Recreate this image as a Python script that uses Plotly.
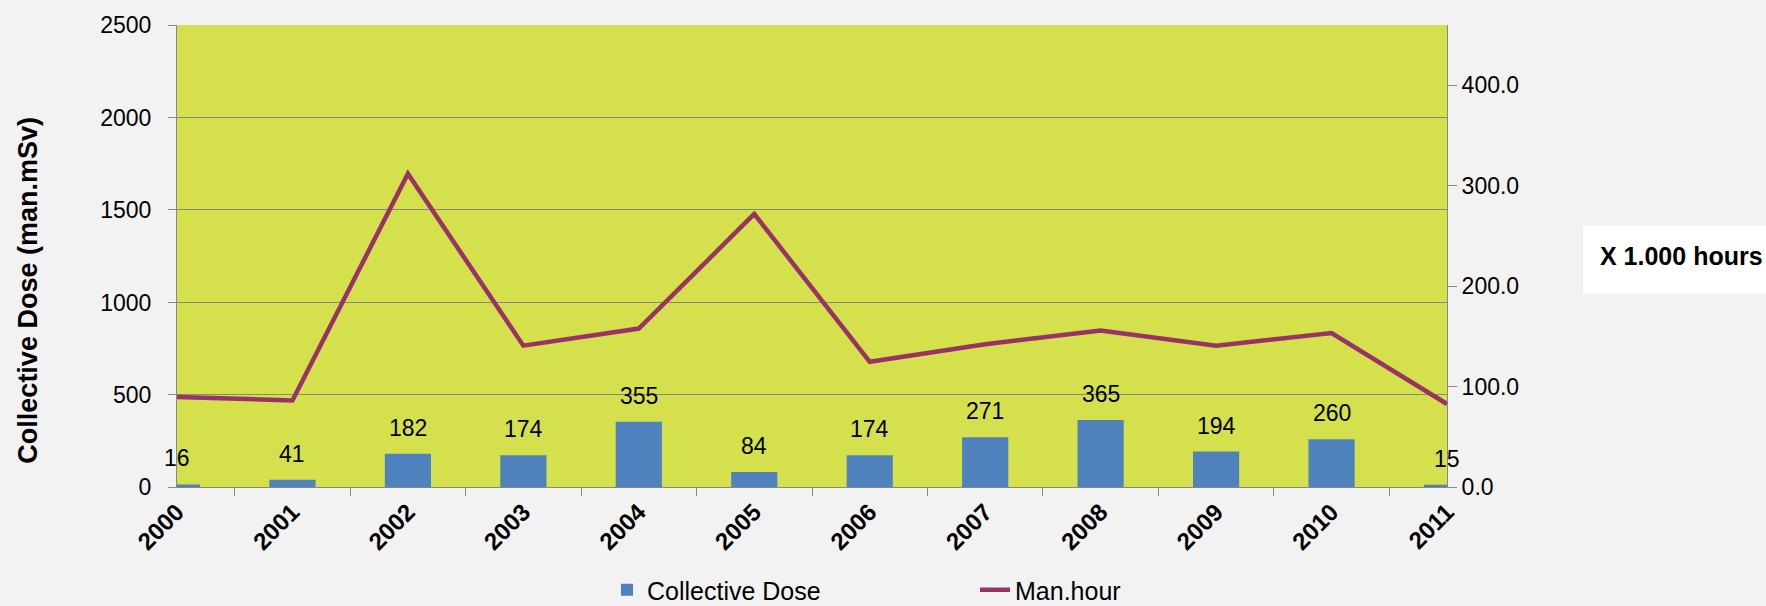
import plotly.graph_objects as go

years = ["2000", "2001", "2002", "2003", "2004", "2005", "2006", "2007", "2008", "2009", "2010", "2011"]
collective_dose = [16, 41, 182, 174, 355, 84, 174, 271, 365, 194, 260, 15]
man_hour = [90, 86.5, 312, 141, 158, 272, 125, 142.5, 156, 141, 153.5, 83]
left_ticks = [0, 500, 1000, 1500, 2000, 2500]
right_ticks = [0, 100, 200, 300, 400]

W, H = 1766, 606
ML, MR, MT, MB = 177, 319, 19, 117
PW = W - ML - MR
PH = H - MT - MB

FONT = "Liberation Sans, Arial, sans-serif"
GRID = "#878787"

def px_x(px):
    return (px - ML) / PW

def px_y(py):
    return (H - MB - py) / PH

fig = go.Figure()
fig.add_trace(go.Bar(
    x=years, y=collective_dose, name="Collective Dose",
    marker=dict(color="#4F81BD", line=dict(width=0)),
    width=0.4, yaxis="y",
))
fig.add_trace(go.Scatter(
    x=years, y=man_hour, name="Man.hour", mode="lines",
    line=dict(color="#993366", width=4.5), yaxis="y2",
))

annotations = []
for i, v in enumerate(collective_dose):
    annotations.append(dict(
        x=i, y=v, xref="x", yref="y", text=str(v), showarrow=False,
        xanchor="center", yanchor="middle", yshift=26,
        font=dict(family=FONT, size=23, color="#000000"),
    ))

annotations.append(dict(
    x=px_x(28), y=px_y(289), xref="paper", yref="paper",
    text="<b>Collective Dose (man.mSv)</b>", textangle=-90, showarrow=False,
    xanchor="center", yanchor="middle",
    font=dict(family=FONT, size=27, color="#000000"),
))
annotations.append(dict(
    x=px_x(1598), y=px_y(254), xref="paper", yref="paper",
    text="<b>X 1.000 hours</b>", showarrow=False,
    xanchor="left", yanchor="middle",
    font=dict(family=FONT, size=25, color="#000000"),
))

shapes = [dict(
    type="rect", xref="paper", yref="paper",
    x0=px_x(1583), x1=px_x(1770), y0=px_y(292), y1=px_y(223),
    fillcolor="#FFFFFF", line=dict(width=0), layer="below",
)]

fig.update_layout(
    width=W, height=H, autosize=False,
    margin=dict(l=ML, r=MR, t=MT, b=MB, pad=0),
    paper_bgcolor="#F2F2F2", plot_bgcolor="#D5E04D",
    font=dict(family=FONT, size=23, color="#000000"),
    showlegend=True,
    legend=dict(
        orientation="h", xref="container", yref="container",
        x=607 / W, xanchor="left", y=1 - 590 / H, yanchor="middle",
        font=dict(family=FONT, size=25, color="#000000"),
        bgcolor="rgba(0,0,0,0)", entrywidth=323, traceorder="normal",
    ),
    xaxis=dict(
        type="category", categoryorder="array", categoryarray=years,
        range=[0, 11], tickson="boundaries", ticks="outside", ticklen=8,
        tickcolor=GRID, showline=True, linecolor=GRID, linewidth=1,
        showgrid=False, tickangle=-45, zeroline=False,
        tickfont=dict(family=FONT, size=24, color="#000000", weight="bold"),
    ),
    yaxis=dict(
        range=[0, 2500], tickvals=left_ticks, ticks="outside", ticklen=8,
        tickcolor=GRID, showline=True, linecolor=GRID, linewidth=1,
        showgrid=True, gridcolor=GRID, gridwidth=1, zeroline=False,
        ticklabelstandoff=12,
        tickfont=dict(family=FONT, size=23, color="#000000"),
    ),
    yaxis2=dict(
        range=[0, 460], tickvals=right_ticks, tickformat=".1f", overlaying="y", side="right",
        ticks="outside", ticklen=9, tickcolor=GRID, showline=True, linecolor=GRID, linewidth=1,
        showgrid=False, zeroline=False,
        tickfont=dict(family=FONT, size=23, color="#000000"),
    ),
    annotations=annotations,
    shapes=shapes,
)

fig.write_html(
    "out.html",
    config={"displayModeBar": False},
    post_script="document.body.style.margin='0';document.body.style.overflow='hidden';",
)
